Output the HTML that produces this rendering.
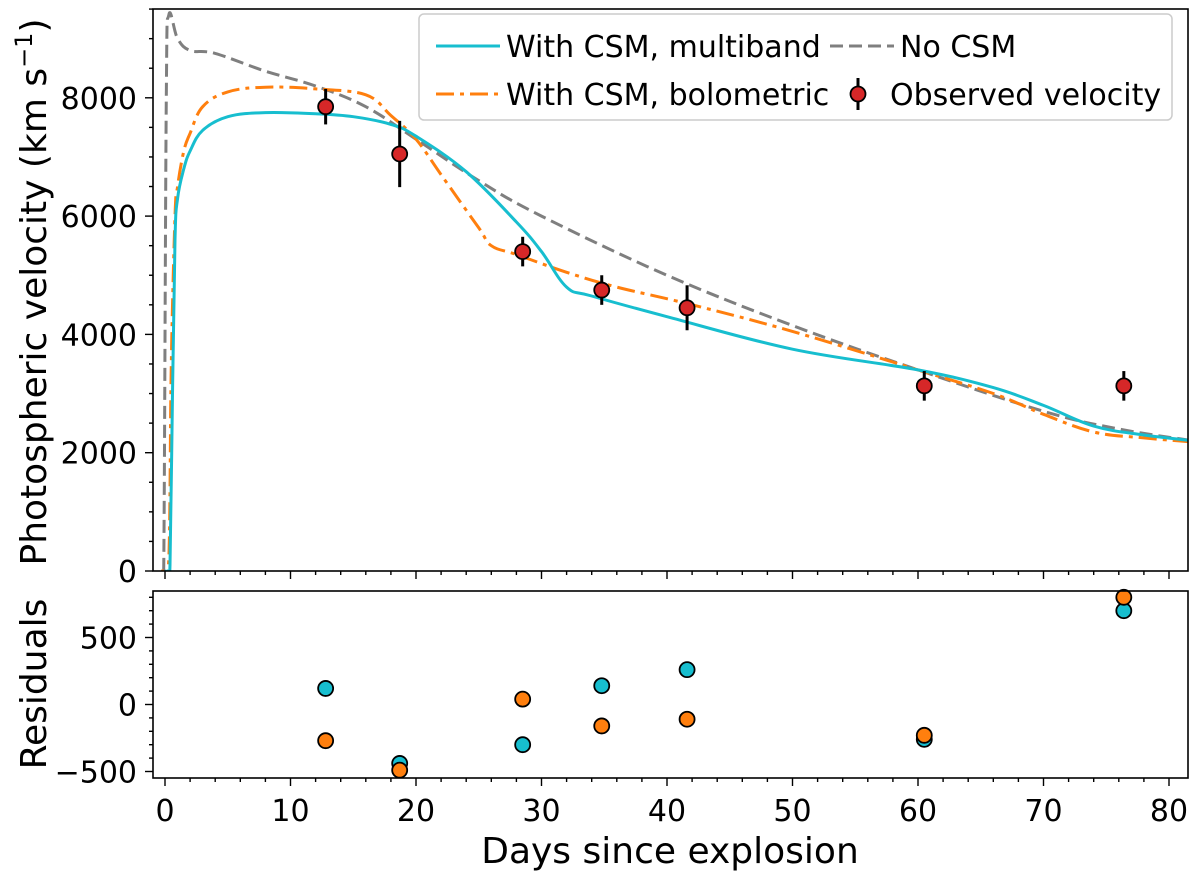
<!DOCTYPE html>
<html><head><meta charset="utf-8"><style>
html,body{margin:0;background:#fff;overflow:hidden;width:1200px;height:876px}
svg text{font-family:"DejaVu Sans","Liberation Sans",sans-serif;fill:#000}
</style></head><body>
<svg id="chart" width="1200" height="876" xmlns="http://www.w3.org/2000/svg" style="position:absolute;left:0;top:0"></svg>
<script>
const obsDays=[12.8,18.7,28.5,34.8,41.6,60.5,76.4];
const obsVel=[7850,7050,5400,4750,4450,3130,3130];
const obsErr=[300,560,250,250,380,250,250];
const residMulti=[120,-440,-300,140,260,-260,700];
const residBolo=[-270,-490,40,-160,-110,-230,800];
const multiT=[0,0.2,0.4,0.6,0.8,1,1.5,2,3,5,8,12,15,18,20,24,28,30,32,34,40,50,60,66,70,74,78,82];
const multiV=[0,0,100,3000,5600,6300,6800,7100,7450,7680,7750,7730,7680,7550,7350,6750,5900,5400,4800,4650,4300,3750,3400,3100,2800,2450,2300,2200];
const boloT=[-0.2,0.3,0.5,0.8,1,1.5,2,3,5,8,12,16,18,20,22,25,26,28,32,36,42,50,60,66,70,74,78,82];
const boloV=[0,200,3500,6000,6500,7100,7400,7850,8100,8180,8150,8050,7700,7300,6700,5800,5500,5350,5050,4800,4500,4050,3400,3000,2650,2350,2250,2180];
const nocsmT=[-0.3,-0.1,0.1,0.3,1,2,4,8,12,16,20,25,30,40,50,60,70,76,82];
const nocsmV=[0,0,8000,9400,9000,8800,8750,8450,8200,7850,7300,6600,6000,5000,4150,3400,2700,2400,2200];
const xTicks=[0,10,20,30,40,50,60,70,80];
const yTicks=[0,2000,4000,6000,8000];
const rTicks=[-500,0,500];

const svg=document.getElementById('chart');const NS='http://www.w3.org/2000/svg';
const L=153,R=1188,T=9,B=571,RT=591,RB=778;
const X=d=>165+(d)*12.55;
const Y=v=>571-v*(118.3/2000);
const RY=v=>704.5-v*(67/500);
function el(tag,attrs,parent){const e=document.createElementNS(NS,tag);for(const k in attrs)e.setAttribute(k,attrs[k]);(parent||svg).appendChild(e);return e;}
function txt(s,attrs){const e=el('text',attrs);e.textContent=s;return e;}
const clipD=el('defs',{});
const cp=el('clipPath',{id:'cp'},clipD);el('rect',{x:L,y:T,width:R-L,height:B-T},cp);
function smoothPath(pts){let d='M'+pts[0][0].toFixed(1)+','+pts[0][1].toFixed(1);
 for(let i=0;i<pts.length-1;i++){const p0=pts[Math.max(0,i-1)],p1=pts[i],p2=pts[i+1],p3=pts[Math.min(pts.length-1,i+2)];
  const t=0.18;
  const c1=[p1[0]+(p2[0]-p0[0])*t,p1[1]+(p2[1]-p0[1])*t],c2=[p2[0]-(p3[0]-p1[0])*t,p2[1]-(p3[1]-p1[1])*t];
  d+='C'+c1.map(v=>v.toFixed(1))+' '+c2.map(v=>v.toFixed(1))+' '+p2[0].toFixed(1)+','+p2[1].toFixed(1);}
 return d;}
function line(ts,vs,color,dash,name){const p=el('path',{d:smoothPath(ts.map((t,i)=>[X(t),Y(vs[i])])),fill:'none',stroke:color,'stroke-width':3,'stroke-dasharray':dash,'clip-path':'url(#cp)','stroke-linejoin':'round'});

}
line(nocsmT,nocsmV,'#7f7f7f','13,6','no-csm-line');
line(boloT,boloV,'#ff7f0e','18,6,4,6','bolometric-line');
line(multiT,multiV,'#17becf','none','multiband-line');
obsDays.forEach((d,i)=>{
 const e=el('line',{x1:X(d),x2:X(d),y1:Y(obsVel[i]-obsErr[i]),y2:Y(obsVel[i]+obsErr[i]),stroke:'#000','stroke-width':3});
 
 
 const c=el('circle',{cx:X(d),cy:Y(obsVel[i]),r:7.5,fill:'#d62728',stroke:'#000','stroke-width':1.8});
 
 
});
obsDays.forEach((d,i)=>{
 const c=el('circle',{cx:X(d),cy:RY(residMulti[i]),r:7.5,fill:'#17becf',stroke:'#000','stroke-width':1.8});
 
 
 const o=el('circle',{cx:X(d),cy:RY(residBolo[i]),r:7.5,fill:'#ff7f0e',stroke:'#000','stroke-width':1.8});
 
 
});
el('rect',{x:L,y:T,width:R-L,height:B-T,fill:'none',stroke:'#000','stroke-width':1.6});
el('rect',{x:L,y:RT,width:R-L,height:RB-RT,fill:'none',stroke:'#000','stroke-width':1.6});
for(let d=0;d<=81;d+=2){const big=d%10===0;const len=big?8:4;
 el('line',{x1:X(d),x2:X(d),y1:B,y2:B+len,stroke:'#000','stroke-width':1.4});
 el('line',{x1:X(d),x2:X(d),y1:RB,y2:RB+len,stroke:'#000','stroke-width':1.4});}
xTicks.forEach(d=>{const t=txt(d,{x:X(d),y:RB+43,'font-size':30,'text-anchor':'middle'});
 
 });
for(let v=0;v<=9500;v+=500){const big=v%2000===0;el('line',{x1:L,x2:L-(big?8:4),y1:Y(v),y2:Y(v),stroke:'#000','stroke-width':1.4});}
yTicks.forEach(v=>{const t=txt(v,{x:L-16,y:Y(v)+11,'font-size':30,'text-anchor':'end'});
 
 });
for(let v=-500;v<=800;v+=100){const big=v%500===0;el('line',{x1:L,x2:L-(big?8:4),y1:RY(v),y2:RY(v),stroke:'#000','stroke-width':1.4});}
rTicks.forEach(v=>{const t=txt(v<0?'\u2212'+(-v):v,{x:L-16,y:RY(v)+11,'font-size':30,'text-anchor':'end'});
 
 });
</script>
<svg width="1200" height="876" xmlns="http://www.w3.org/2000/svg" style="position:absolute;left:0;top:0;pointer-events:none;font-family:'DejaVu Sans','Liberation Sans',sans-serif">
<text x="670" y="863" font-size="36" text-anchor="middle">Days since explosion</text>
<text transform="translate(46,292) rotate(-90)" font-size="36" text-anchor="middle">Photospheric velocity (km s<tspan font-size="24" dy="-14">−1</tspan><tspan dy="14">)</tspan></text>
<text transform="translate(46,684) rotate(-90)" font-size="36" text-anchor="middle">Residuals</text>
<g>
<rect x="419" y="14" width="753" height="106" rx="5" fill="#fff" fill-opacity="0.8" stroke="#ccc" stroke-width="1.5"/>
<line x1="436" x2="500" y1="46" y2="46" stroke="#17becf" stroke-width="3"/>
<text x="506" y="57" font-size="30">With CSM, multiband</text>
<line x1="436" x2="500" y1="94" y2="94" stroke="#ff7f0e" stroke-width="3" stroke-dasharray="18,6,4,6"/>
<text x="506" y="105" font-size="30">With CSM, bolometric</text>
<line x1="830" x2="894" y1="46" y2="46" stroke="#7f7f7f" stroke-width="3" stroke-dasharray="13,6"/>
<text x="900" y="57" font-size="30">No CSM</text>
<line x1="858" x2="858" y1="78" y2="110" stroke="#000" stroke-width="3"/>
<circle cx="858" cy="94" r="7.5" fill="#d62728" stroke="#000" stroke-width="1.8"/>
<text x="890" y="105" font-size="30">Observed velocity</text>
</g>
</svg>
</body></html>
